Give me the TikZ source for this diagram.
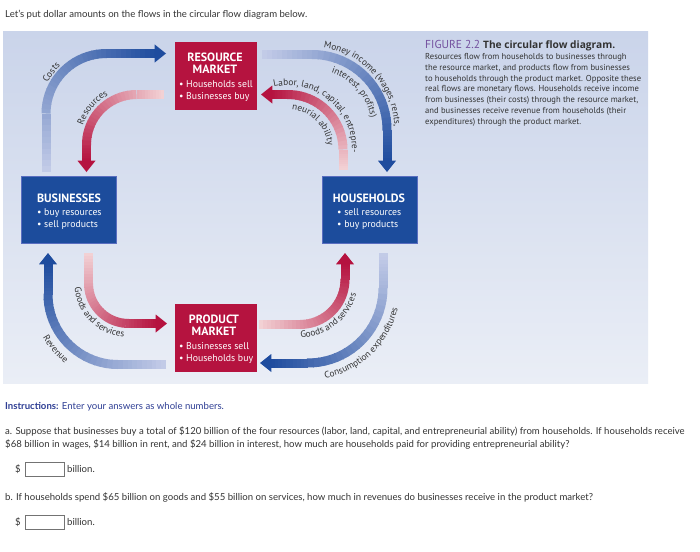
\documentclass[tikz,border=0pt]{standalone}
\usepackage{fontspec}
\setmainfont{Lato}
\newfontfamily\gill{PT Sans}
\newfontfamily\capbold{Open Sans}
\usetikzlibrary{decorations.text}
\definecolor{panelTop}{HTML}{CAD4EA}
\definecolor{panelBot}{HTML}{EAEEF6}
\definecolor{bDark}{HTML}{1E4C9E}
\definecolor{bLight}{HTML}{C4CCE8}
\definecolor{rDark}{HTML}{B5123F}
\definecolor{rLight}{HTML}{F3D3D6}
\definecolor{boxblue}{HTML}{1C4C9C}
\definecolor{boxblueedge}{HTML}{5A6EC0}
\definecolor{boxred}{HTML}{B5133F}
\definecolor{labcol}{HTML}{333333}
\definecolor{qcol}{HTML}{333333}
\definecolor{instrblue}{HTML}{2E3E94}
\definecolor{figpurple}{HTML}{74519F}
\newcommand\lab{\gill\fontsize{9.3}{11}\selectfont}
% gradient band: cx, cy, R, a0, a1, L1, L3, light, dark
\newcommand\gband[9]{%
 \pgfmathsetmacro\gbS{(#5>#4)?1:-1}%
 \pgfmathsetmacro\gbArc{abs(#5-#4)*pi/180*#3}%
 \pgfmathsetmacro\gbL{#6+\gbArc+#7}%
 \pgfmathsetmacro\gbAx{#1+#3*cos(#4)}%
 \pgfmathsetmacro\gbAy{#2+#3*sin(#4)}%
 \pgfmathsetmacro\gbTx{\gbS*(-sin(#4))}%
 \pgfmathsetmacro\gbTy{\gbS*cos(#4)}%
 \pgfmathsetmacro\gbEx{#1+#3*cos(#5)}%
 \pgfmathsetmacro\gbEy{#2+#3*sin(#5)}%
 \pgfmathsetmacro\gbUx{\gbS*(-sin(#5))}%
 \pgfmathsetmacro\gbUy{\gbS*cos(#5)}%
 \foreach \i in {1,...,10}{%
   \pgfmathsetmacro\gbSa{#6*(\i-1)/10}%
   \pgfmathsetmacro\gbSb{min(#6*\i/10+0.6,#6)}%
   \pgfmathtruncatemacro\gbPc{min(100,100*(((\gbSa+\gbSb)/2)/\gbL))}%
   \draw[band,draw=#9!\gbPc!#8] ({\gbAx-(#6-\gbSa)*\gbTx},{\gbAy-(#6-\gbSa)*\gbTy}) -- ({\gbAx-(#6-\gbSb)*\gbTx},{\gbAy-(#6-\gbSb)*\gbTy});
 }%
 \foreach \i in {1,...,20}{%
   \pgfmathsetmacro\gbTa{#4+(#5-#4)*(\i-1)/20}%
   \pgfmathsetmacro\gbTb{#4+(#5-#4)*\i/20+\gbS*0.8}%
   \pgfmathtruncatemacro\gbPc{min(100,100*((#6+\gbArc*(\i-0.5)/20)/\gbL))}%
   \draw[band,draw=#9!\gbPc!#8] (#1,#2) ++(\gbTa:#3) arc[start angle=\gbTa, end angle=\gbTb, radius=#3];
 }%
 \foreach \i in {1,...,10}{%
   \pgfmathsetmacro\gbSa{#7*(\i-1)/10}%
   \pgfmathsetmacro\gbSb{min(#7*\i/10+0.6,#7)}%
   \pgfmathtruncatemacro\gbPc{min(100,100*((#6+\gbArc+(\gbSa+\gbSb)/2)/\gbL))}%
   \draw[band,draw=#9!\gbPc!#8] ({\gbEx+\gbSa*\gbUx},{\gbEy+\gbSa*\gbUy}) -- ({\gbEx+\gbSb*\gbUx},{\gbEy+\gbSb*\gbUy});
 }%
 \fill[#9] ({\gbEx+(#7-0.3)*\gbUx+9*\gbUy},{\gbEy+(#7-0.3)*\gbUy-9*\gbUx})
   -- ({\gbEx+(#7+11)*\gbUx},{\gbEy+(#7+11)*\gbUy})
   -- ({\gbEx+(#7-0.3)*\gbUx-9*\gbUy},{\gbEy+(#7-0.3)*\gbUy+9*\gbUx}) -- cycle;
}
% text along an arc: cx, cy, r, a-start, a-end, text
\newcommand\arctext[6]{%
 \path[decorate, decoration={text along path, text align=center, text color=labcol, text={|\lab|#6}}]
   (#1,#2) ++(#4:#3) arc[start angle=#4, end angle=#5, radius=#3];
}
\begin{document}
\begin{tikzpicture}[x=1pt,y=-1pt,
  band/.style={line width=9pt},
  qtext/.style={font=\fontsize{9.6}{11}\selectfont, text=qcol, inner sep=0, anchor=base west},
  captext/.style={font=\gill\fontsize{8.6}{10}\selectfont, text=qcol, inner sep=0, anchor=base west},
  bbox/.style={fill=boxblue, draw=boxblueedge, line width=0.6pt, minimum width=95pt, minimum height=67pt, inner sep=0},
  rbox/.style={fill=boxred, minimum width=82pt, minimum height=68pt, inner sep=0},
  ttl/.style={font=\gill\bfseries\fontsize{12}{13}\selectfont, text=white, inner sep=0, anchor=base},
  bul/.style={font=\gill\fontsize{9.8}{11}\selectfont, text=white, inner sep=0, anchor=base west},
  ansbox/.style={draw=black!55, fill=white, line width=0.6pt, minimum width=39pt, minimum height=14pt, inner sep=0}
]
\useasboundingbox (0,0) rectangle (700,551);
\fill[white] (0,0) rectangle (700,551);
\node[qtext] (intro) at (5,17.5) {Let's put dollar amounts on the flows in the circular flow diagram below.};
\shade[top color=panelTop, bottom color=panelBot] (3,32) rectangle (648,383);

% arrows
\gband{106}{113.5}{60}{180}{270}{58.5}{49}{bLight}{bDark}
\gband{136.5}{144.5}{50}{270}{180}{27.5}{16.5}{rLight}{rDark}
\gband{312}{129.5}{75}{270}{360}{50}{31.5}{bLight}{bDark}
\gband{288}{149.5}{55}{360}{270}{20.5}{16}{rLight}{rDark}
\gband{128.5}{283.5}{40}{180}{90}{30.5}{27.5}{rLight}{rDark}
\gband{118}{294.5}{70}{90}{180}{48}{30.5}{bLight}{bDark}
\gband{300}{279.5}{45}{90}{0}{41}{15.5}{rLight}{rDark}
\gband{308}{288}{75}{0}{90}{35}{37}{bLight}{bDark}

% arrow labels
\arctext{106}{113.5}{66}{194}{240}{Costs}
\arctext{136.5}{144.5}{57}{188}{252}{Resources}
\arctext{312}{129.5}{82.5}{263}{373}{Money income (wages, rents,}
\arctext{312}{129.5}{60}{272}{366}{interest, profits)}
\arctext{288}{149.5}{64}{245}{375}{Labor, land, capital, entrepre-}
\arctext{288}{149.5}{40}{255}{375}{neurial ability}
\arctext{128.5}{283.5}{54}{195}{75}{Goods and services}
\arctext{118}{294.5}{86.5}{165}{113}{Revenue}
\arctext{300}{279.5}{58}{112}{-8}{Goods and services}
\arctext{308}{288}{92}{96}{-4}{Consumption expenditures}

% boxes
\node[rbox] (rm) at (216,76) {};
\node[ttl] (rmt1) at (215,61.3) {RESOURCE};
\node[ttl] (rmt2) at (215,73.6) {MARKET};
\node[bul] (rmb1) at (179,87.8) {• Households sell};
\node[bul] (rmb2) at (179,99.8) {• Businesses buy};

\node[rbox] (pm) at (216,338) {};
\node[ttl] (pmt1) at (214,323.3) {PRODUCT};
\node[ttl] (pmt2) at (214,335.6) {MARKET};
\node[bul] (pmb1) at (179,349.8) {• Businesses sell};
\node[bul] (pmb2) at (179,361.8) {• Households buy};

\node[bbox] (bus) at (68.5,209.5) {};
\node[ttl] (bust) at (69,202) {BUSINESSES};
\node[bul] (busb1) at (37,215) {• buy resources};
\node[bul] (busb2) at (37,227.5) {• sell products};

\node[bbox] (hh) at (369.5,209.5) {};
\node[ttl] (hht) at (369,202) {HOUSEHOLDS};
\node[bul] (hhb1) at (337,215) {• sell resources};
\node[bul] (hhb2) at (337,227.5) {• buy products};

% caption
\node[captext] (fig) at (425,48.5) {\textcolor{figpurple}{\fontsize{11.5}{12}\selectfont FIGURE 2.2}\hspace{3pt}{\capbold\bfseries\fontsize{10.2}{11}\selectfont The circular flow diagram.}};
\node[captext] (c1) at (425,59.5) {Resources flow from households to businesses through};
\node[captext] (c2) at (425,70.3) {the resource market, and products flow from businesses};
\node[captext] (c3) at (425,81.1) {to households through the product market. Opposite these};
\node[captext] (c4) at (425,91.9) {real flows are monetary flows. Households receive income};
\node[captext] (c5) at (425,102.7) {from businesses (their costs) through the resource market,};
\node[captext] (c6) at (425,113.5) {and businesses receive revenue from households (their};
\node[captext] (c7) at (425,124.3) {expenditures) through the product market.};

% questions
\node[qtext, text=instrblue] (instr) at (5,409) {\textbf{Instructions:} Enter your answers as whole numbers.};
\node[qtext] (qa1) at (5,434) {a. Suppose that businesses buy a total of \$120 billion of the four resources (labor, land, capital, and entrepreneurial ability) from households. If households receive};
\node[qtext] (qa2) at (5,447) {\$68 billion in wages, \$14 billion in rent, and \$24 billion in interest, how much are households paid for providing entrepreneurial ability?};
\node[ansbox] (box1) at (44.5,469) {};
\node[qtext, anchor=base east] (d1) at (21,472) {\$};
\node[qtext] (bil1) at (67,472) {billion.};
\node[qtext] (qb) at (5,500) {b. If households spend \$65 billion on goods and \$55 billion on services, how much in revenues do businesses receive in the product market?};
\node[ansbox] (box2) at (44.5,522) {};
\node[qtext, anchor=base east] (d2) at (21,525) {\$};
\node[qtext] (bil2) at (67,525) {billion.};
\end{tikzpicture}
\end{document}
